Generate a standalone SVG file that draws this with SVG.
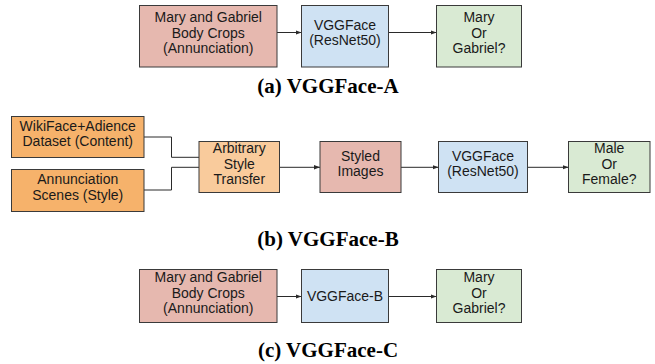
<svg xmlns="http://www.w3.org/2000/svg" width="655" height="364" viewBox="0 0 655 364">
<style>
.bx{stroke:#3a3a3a;stroke-width:1}
.pink{fill:#e6b8af}.blue{fill:#cfe2f3}.green{fill:#d9ead3}.orange{fill:#f6b26b}.lorange{fill:#f9cb9c}
.t{font-family:"Liberation Sans",Arial,sans-serif;font-size:14px;fill:#1a1a1a;text-anchor:middle}
.cap{font-family:"Liberation Serif","Times New Roman",serif;font-weight:bold;font-size:21px;fill:#000;text-anchor:middle}
.ln{stroke:#2a2a2a;stroke-width:1;fill:none}
.ar{stroke:#2a2a2a;stroke-width:1;fill:none;marker-end:url(#ah)}
</style>
<defs>
<marker id="ah" viewBox="0 0 6 6" refX="6" refY="3" markerWidth="6" markerHeight="6" markerUnits="userSpaceOnUse" orient="auto">
<path d="M0,0.8 L6,3 L0,5.2 Z" fill="#2a2a2a"/>
</marker>
</defs>
<g id="connectors">
<path class="ar" d="M277,32.5 H301.5"/>
<path class="ar" d="M388.5,32.5 H436.5"/>
<path class="ln" d="M144,137 H171.5 V157.3 H199"/>
<path class="ln" d="M144,190 H171.5 V167.3 H199"/>
<path class="ar" d="M279.5,167.3 H320"/>
<path class="ar" d="M401,167.3 H438.5"/>
<path class="ar" d="M527.5,167.3 H568.5"/>
<path class="ar" d="M277,296.5 H301.5"/>
<path class="ar" d="M388.5,296.5 H436.5"/>
</g>
<g id="a_crops"><rect class="bx pink" x="139.5" y="5.5" width="137.5" height="61.5"/>
<text class="t" x="208.25" y="22">Mary and Gabriel</text><text class="t" x="208.25" y="37.5">Body Crops</text><text class="t" x="208.25" y="53">(Annunciation)</text></g>
<g id="a_vgg"><rect class="bx blue" x="301.5" y="5.5" width="87" height="61.5"/>
<text class="t" x="345" y="29.5">VGGFace</text><text class="t" x="345" y="45">(ResNet50)</text></g>
<g id="a_out"><rect class="bx green" x="436.5" y="5.5" width="85" height="61.5"/>
<text class="t" x="479" y="22">Mary</text><text class="t" x="479" y="37.5">Or</text><text class="t" x="479" y="53">Gabriel?</text></g>
<text class="cap" x="328" y="93">(a) VGGFace-A</text>

<g id="b_content"><rect class="bx orange" x="11.5" y="116.5" width="132.5" height="41"/>
<text class="t" x="77.75" y="130.5">WikiFace+Adience</text><text class="t" x="77.75" y="146">Dataset (Content)</text></g>
<g id="b_style"><rect class="bx orange" x="11.5" y="169.5" width="132.5" height="42"/>
<text class="t" x="77.75" y="184">Annunciation</text><text class="t" x="77.75" y="199.5">Scenes (Style)</text></g>
<g id="b_transfer"><rect class="bx lorange" x="199" y="141.5" width="80.5" height="51"/>
<text class="t" x="239.25" y="153">Arbitrary</text><text class="t" x="239.25" y="168.5">Style</text><text class="t" x="239.25" y="184">Transfer</text></g>
<g id="b_styled"><rect class="bx pink" x="320" y="141.5" width="81" height="51"/>
<text class="t" x="360.5" y="160.5">Styled</text><text class="t" x="360.5" y="176">Images</text></g>
<g id="b_vgg"><rect class="bx blue" x="438.5" y="141.5" width="89" height="51"/>
<text class="t" x="483" y="160.5">VGGFace</text><text class="t" x="483" y="176">(ResNet50)</text></g>
<g id="b_out"><rect class="bx green" x="568.5" y="141.5" width="81.5" height="51"/>
<text class="t" x="609.25" y="153">Male</text><text class="t" x="609.25" y="168.5">Or</text><text class="t" x="609.25" y="184">Female?</text></g>
<text class="cap" x="328" y="246">(b) VGGFace-B</text>

<g id="c_crops"><rect class="bx pink" x="139.5" y="269.5" width="137.5" height="53"/>
<text class="t" x="208.25" y="282">Mary and Gabriel</text><text class="t" x="208.25" y="297.5">Body Crops</text><text class="t" x="208.25" y="313">(Annunciation)</text></g>
<g id="c_vgg"><rect class="bx blue" x="301.5" y="269.5" width="87" height="53"/>
<text class="t" x="345" y="301">VGGFace-B</text></g>
<g id="c_out"><rect class="bx green" x="436.5" y="269.5" width="85" height="53"/>
<text class="t" x="479" y="282">Mary</text><text class="t" x="479" y="297.5">Or</text><text class="t" x="479" y="313">Gabriel?</text></g>
<text class="cap" x="328" y="357">(c) VGGFace-C</text>
</svg>
